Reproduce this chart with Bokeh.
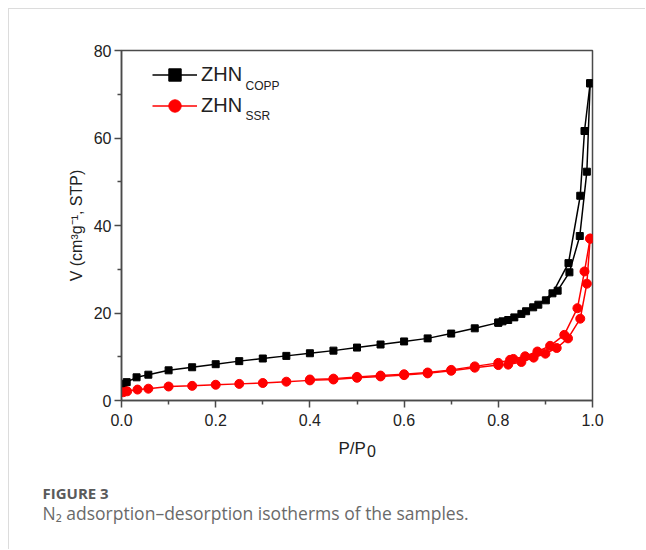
from bokeh.plotting import figure
from bokeh.models import (FixedTicker, PrintfTickFormatter, Legend, LegendItem,
                          Label, Range1d)
from bokeh.embed import file_html
from bokeh.resources import INLINE

# ---- data ----
copp_ads_p = [0.004, 0.011, 0.032, 0.057, 0.10, 0.15, 0.20, 0.25, 0.30, 0.35,
              0.40, 0.45, 0.50, 0.55, 0.60, 0.65, 0.70, 0.75, 0.80, 0.821,
              0.849, 0.874, 0.901, 0.926, 0.951, 0.973, 0.988, 0.995]
copp_ads_v = [3.8, 4.2, 5.3, 5.9, 6.9, 7.6, 8.3, 9.0, 9.6, 10.2,
              10.8, 11.4, 12.1, 12.8, 13.5, 14.2, 15.3, 16.5, 17.8, 18.4,
              19.8, 21.3, 22.9, 25.1, 29.3, 37.6, 52.3, 72.5]
copp_des_p = [0.995, 0.983, 0.974, 0.949, 0.915, 0.885, 0.859, 0.834, 0.809, 0.80]
copp_des_v = [72.5, 61.6, 46.8, 31.4, 24.5, 21.9, 20.4, 19.0, 18.1, 17.8]

ssr_ads_p = [0.004, 0.012, 0.034, 0.057, 0.10, 0.15, 0.20, 0.25, 0.30, 0.35,
             0.40, 0.45, 0.50, 0.55, 0.60, 0.65, 0.70, 0.75, 0.80, 0.821,
             0.849, 0.875, 0.90, 0.924, 0.948, 0.974, 0.988, 0.995]
ssr_ads_v = [1.9, 2.1, 2.5, 2.7, 3.2, 3.35, 3.6, 3.8, 4.0, 4.3,
             4.6, 4.8, 5.2, 5.5, 5.8, 6.2, 6.8, 7.5, 8.1, 8.2,
             8.8, 9.8, 10.7, 12.0, 14.2, 18.7, 26.7, 37.0]
ssr_des_p = [0.995, 0.983, 0.968, 0.94, 0.91, 0.883, 0.857, 0.832, 0.825, 0.80,
             0.75, 0.70, 0.65, 0.60, 0.55, 0.50, 0.45, 0.40]
ssr_des_v = [37.0, 29.5, 21.1, 15.0, 12.5, 11.2, 10.1, 9.5, 9.3, 8.6,
             7.8, 7.0, 6.4, 6.0, 5.7, 5.4, 5.0, 4.8]

x_ticks = [0.0, 0.2, 0.4, 0.6, 0.8, 1.0]
x_minor = [0.1, 0.3, 0.5, 0.7, 0.9]
y_ticks = [0, 20, 40, 60, 80]
y_minor = [10, 30, 50, 70]

series_names = ["ZHN", "ZHN"]
series_subs = ["COPP", "SSR"]
x_label_main = "P/P"
x_label_sub = "0"
y_label = "V (cm\u00b3g\u207b\u00b9, STP)"
caption_head = "FIGURE 3"
caption_text = "N\u2082 adsorption\u2013desorption isotherms of the samples."

AX = "#4a4a4a"
FONT = "Liberation Sans"

p = figure(width=637, height=541, output_backend="svg", toolbar_location=None,
           x_range=Range1d(0, 1.0), y_range=Range1d(0, 80),
           min_border_left=112, min_border_right=54, min_border_top=41,
           min_border_bottom=150)
p.styles = {"margin-left": "8px", "margin-top": "8px",
            "border-top": "1px solid #dcdcdc", "border-left": "1px solid #dcdcdc"}
p.grid.visible = False
p.background_fill_color = "white"
p.border_fill_color = "white"
p.outline_line_color = AX
p.outline_line_width = 1.5

for ax, ticks, minor in ((p.xaxis[0], x_ticks, x_minor), (p.yaxis[0], y_ticks, y_minor)):
    ax.ticker = FixedTicker(ticks=ticks, minor_ticks=minor)
    ax.axis_line_color = AX
    ax.axis_line_width = 1.5
    ax.major_tick_line_color = AX
    ax.major_tick_line_width = 1.5
    ax.minor_tick_line_color = AX
    ax.minor_tick_line_width = 1.5
    ax.major_tick_out = 7
    ax.major_tick_in = 0
    ax.minor_tick_out = 4
    ax.minor_tick_in = 0
    ax.major_label_text_font = FONT
    ax.major_label_text_font_size = "16px"
    ax.major_label_text_color = "#222222"
    ax.axis_label_text_font = FONT
    ax.axis_label_text_font_size = "16px"
    ax.axis_label_text_font_style = "normal"
    ax.axis_label_text_color = "#222222"

p.xaxis[0].formatter = PrintfTickFormatter(format="%.1f")
p.xaxis[0].major_label_standoff = 6
p.yaxis[0].major_label_standoff = 3
p.yaxis[0].axis_label = y_label
p.yaxis[0].axis_label_standoff = 6

# black series
l1 = p.line(copp_ads_p, copp_ads_v, line_color="black", line_width=1.5)
p.line(copp_des_p, copp_des_v, line_color="black", line_width=1.5)
s1 = p.scatter(copp_ads_p, copp_ads_v, marker="square", size=7, fill_color="black", line_color="black")
p.scatter(copp_des_p, copp_des_v, marker="square", size=7, fill_color="black", line_color="black")

# red series
l2 = p.line(ssr_ads_p, ssr_ads_v, line_color="#ff0000", line_width=1.5)
p.line(ssr_des_p, ssr_des_v, line_color="#ff0000", line_width=1.5)
s2 = p.scatter(ssr_ads_p, ssr_ads_v, marker="circle", size=9, fill_color="#ff0000", line_color="#ff0000")
p.scatter(ssr_des_p, ssr_des_v, marker="circle", size=9, fill_color="#ff0000", line_color="#ff0000")

legend = Legend(items=[LegendItem(label=series_names[0], renderers=[l1, s1]),
                       LegendItem(label=series_names[1], renderers=[l2, s2])],
                location=(31, 279), glyph_width=45, glyph_height=31,
                label_standoff=4, spacing=0, padding=0, margin=0,
                border_line_color=None, background_fill_alpha=0,
                label_text_font=FONT, label_text_font_size="20px",
                label_text_color="#222222")
p.add_layout(legend, "center")

for sub, y in zip(series_subs, (314.5, 285.0)):
    p.add_layout(Label(x=124, y=y, x_units="screen", y_units="screen", text=sub,
                       text_font=FONT, text_font_size="12px", text_color="#222222",
                       text_baseline="alphabetic"))

# texts placed in the space below the axis (each gets its own stacked panel)
below_texts = [
    (x_label_main, 217, -1, FONT, "normal", "17px", "#222222"),
    (x_label_sub, 245.5, 9, FONT, "normal", "16px", "#222222"),
    (caption_head, -79, -13, "Open Sans", "bold", "15px", "#5a5a5a"),
    (caption_text, -79, -9, "Open Sans", "normal", "17.5px", "#6a6a6a"),
]
for txt, x, y, fnt, style, size, col in below_texts:
    p.add_layout(Label(x=x, y=y, x_units="screen", y_units="screen", text=txt,
                       text_font=fnt, text_font_style=style, text_font_size=size,
                       text_color=col, text_baseline="alphabetic"), "below")

open("out.html", "w").write(file_html(p, INLINE))
